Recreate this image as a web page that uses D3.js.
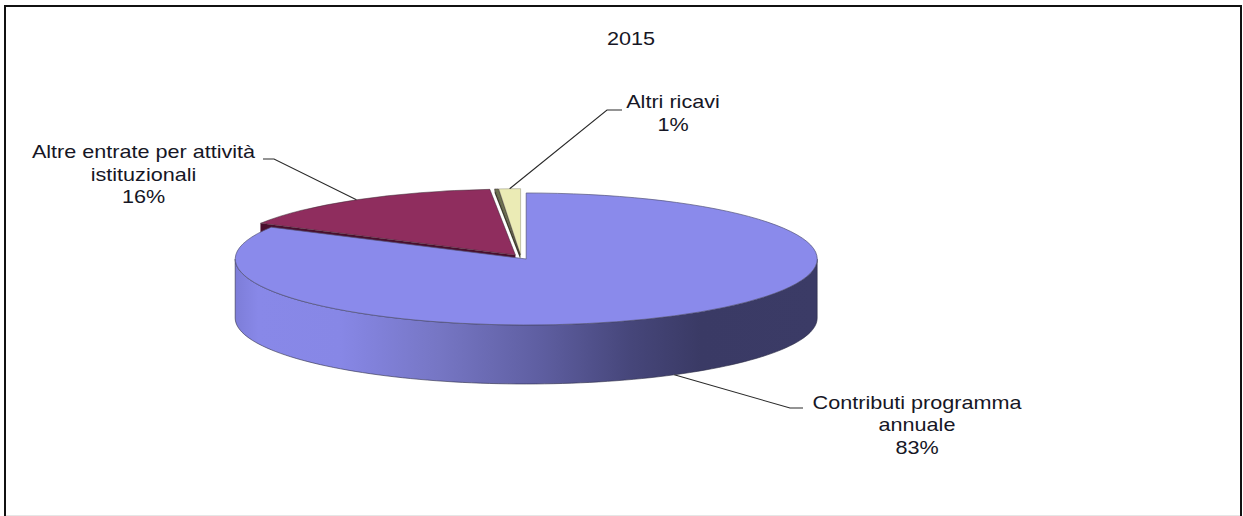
<!DOCTYPE html>
<html><head><meta charset="utf-8">
<script src="https://d3js.org/d3.v7.min.js"></script>
<style>html,body{margin:0;padding:0;background:#fff}svg{display:block}text{font-family:"Liberation Sans",Arial,sans-serif;fill:#161625}</style>
</head><body><svg id="c" width="1243" height="516"></svg>
<script>
const title = "2015";
const categories = ["Contributi programma annuale","Altre entrate per attività istituzionali","Altro","Altri ricavi"];
const values = [83.0,15.6,0.2,1.2];
const percentLabels = ["83%","16%","","1%"];
const labelLines = [["Contributi programma","annuale"],["Altre entrate per attività","istituzionali"],[],["Altri ricavi"]];
const topColors = ["#8a8aeb","#8f2d5e","#6d7350","#ebebb5"];
const wallColors = ["#8a8aeb","#4a0f2e","#3d4028","#a5a57c"];

const W=1243,H=516,cx=521,cy=257,rx=291,ry=66,depth=59,explode=0.035;
const svg=d3.select("#c");
svg.append("rect").attr("width",W).attr("height",H).attr("fill","#fff");
svg.append("path").attr("d",`M5,515.5H1241`).attr("fill","none").attr("stroke","#e6e6e6").attr("stroke-width",1);
svg.append("path").attr("d",`M5,516V6H1241V516`).attr("fill","none").attr("stroke","#111").attr("stroke-width",2);

const defs=svg.append("defs");
const grad=defs.append("linearGradient").attr("id","wall").attr("gradientUnits","userSpaceOnUse")
  .attr("x1",235).attr("x2",817).attr("y1",0).attr("y2",0);
[[0,"#7d7dd8"],[0.04,"#8888e8"],[0.18,"#8787e6"],[0.35,"#7676c4"],[0.52,"#5f5fa2"],[0.68,"#46467a"],[0.8,"#3a3a65"],[1,"#3b3b66"]]
  .forEach(([o,c])=>grad.append("stop").attr("offset",o).attr("stop-color",c));

const pie=d3.pie().sort(null).value(d=>d).startAngle(0).endAngle(2*Math.PI);
const slices=pie(values).map((s,i)=>{
  const mid=(s.startAngle+s.endAngle)/2;
  return {...s,i,mid,
    x:cx+explode*rx*Math.sin(mid),
    y:cy-explode*ry*Math.cos(mid)};
});
const arcGen=d3.arc().innerRadius(0).outerRadius(1);
const pt=(s,a,dz=0)=>[s.x+rx*Math.sin(a),s.y-ry*Math.cos(a)+dz];
const line=d3.line();

// back slices first, the large front slice last
const order=[3,2,1,0];
order.forEach(i=>{
  const s=slices[i];
  const g=svg.append("g");
  if(i===0){
    const a0=Math.max(s.startAngle,Math.PI/2),a1=Math.min(s.endAngle,3*Math.PI/2);
    const angs=d3.range(0,101).map(k=>a0+(a1-a0)*k/100);
    const pts=angs.map(a=>pt(s,a)).concat(angs.slice().reverse().map(a=>pt(s,a,depth)));
    g.append("path").attr("d",line(pts)+"Z").attr("fill","url(#wall)")
      .attr("stroke","#2c2c44").attr("stroke-width",0.6);
  } else {
    // only the cut face turned toward the viewer is visible
    const p=[[s.x,s.y],pt(s,s.startAngle),pt(s,s.startAngle,depth),[s.x,s.y+depth]];
    if(i===1) g.append("path").attr("d",line(p)+"Z").attr("fill",wallColors[i]);
    else g.append("path").attr("d",line([[s.x,s.y],[s.x,s.y+4],pt(s,s.startAngle,4),pt(s,s.startAngle)])+"Z").attr("fill",wallColors[i]);
  }
  g.append("path").attr("d",arcGen({startAngle:s.startAngle,endAngle:s.endAngle}))
    .attr("transform",`translate(${s.x},${s.y}) scale(${rx},${ry})`)
    .attr("fill",topColors[i])
    .attr("stroke",i===3?"#8f8f78":(i===0?"#55557a":"#3a2a33"))
    .attr("stroke-width",i===0?0.7:0.5)
    .style("vector-effect","non-scaling-stroke");
});

// leader lines, anchored on each slice's mid angle
const leaderLayout={0:{dz:depth,elbow:[790,408],end:[803,408]},1:{dz:0,elbow:[274,159],end:[263,159]},3:{dz:0,elbow:[607,110],end:[622,110]}};
Object.keys(leaderLayout).forEach(k=>{
  const s=slices[+k],l=leaderLayout[k];
  svg.append("path").attr("d",line([pt(s,s.mid,l.dz),l.elbow,l.end]))
    .attr("fill","none").attr("stroke","#2a2a2a").attr("stroke-width",1.1);
});

// labels: the reference's type is wider than Liberation Sans, so it is stretched horizontally
const fs=18,stretch=1.2;
const addText=(x,y,t)=>svg.append("text").attr("transform",`translate(${x},${y}) scale(${stretch},1)`)
  .attr("text-anchor","middle").attr("font-size",fs).text(t);
const labelLayout={0:{x:917,y:408.5},1:{x:143.5,y:158},3:{x:673,y:108}};
Object.keys(labelLayout).forEach(k=>{
  const l=labelLayout[k];
  labelLines[k].concat(percentLabels[k]).forEach((t,j)=>addText(l.x,l.y+j*22.7,t));
});
addText(631,44.5,title);
</script></body></html>
